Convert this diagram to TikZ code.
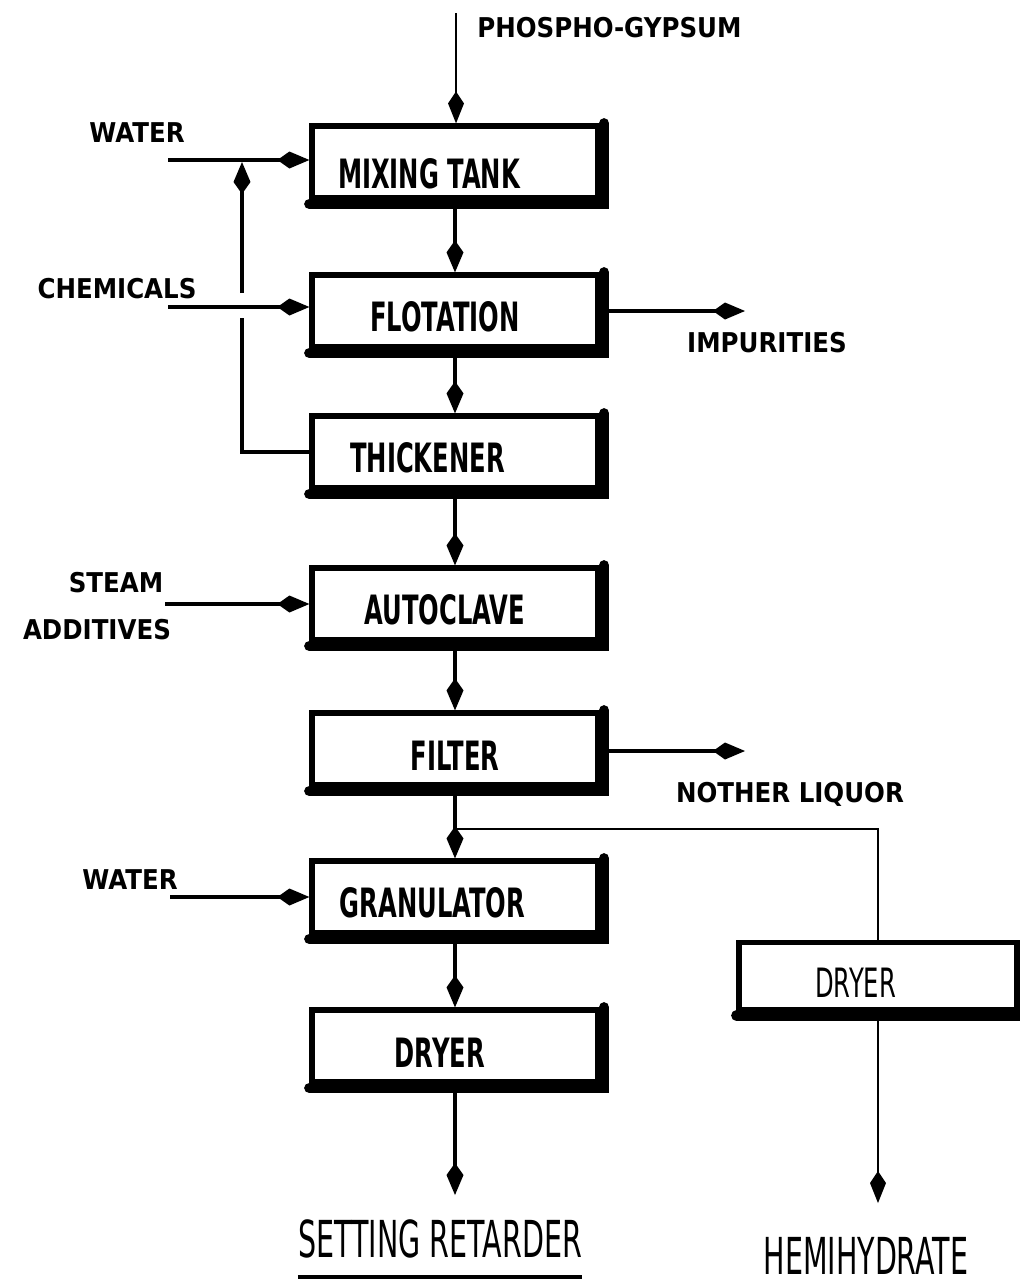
\documentclass[tikz,border=0pt]{standalone}
\usepackage{fontspec}
\usetikzlibrary{arrows.meta}
\newfontfamily\boxfont[FakeStretch=0.6]{DejaVu Sans}
\newfontfamily\feedfont[FakeStretch=0.9]{DejaVu Sans}
\newfontfamily\prodfont[FakeStretch=0.56]{DejaVu Sans}

\tikzset{
    unit/.style={draw, line width=3pt, fill=white, inner sep=0pt,
        minimum width=5.72cm, minimum height=1.44cm, text height=0.85cm,
        font=\boxfont\bfseries\fontsize{23}{27}\selectfont},
    shade edge/.style={line width=6pt, line cap=round},
    feed/.style={inner sep=0pt, font=\feedfont\bfseries\fontsize{15.5}{18}\selectfont},
    prod/.style={inner sep=0pt, font=\prodfont\fontsize{29}{34}\selectfont},
    flow/.style={line width=2.2pt, -{Kite[length=0.64cm, width=0.34cm, inset=0.24cm]}},
    flowline/.style={line width=2.2pt},
    side/.style={line width=1.3pt},
    sideflow/.style={line width=1.3pt, -{Kite[length=0.64cm, width=0.32cm, inset=0.24cm]}}
}

\begin{document}
\begin{tikzpicture}[x=0.02cm, y=-0.02cm]
    \useasboundingbox (0,0) rectangle (1020,1286);

    % process units
    \node[unit] (mix)   at (455,162)  {\raisebox{-0.1cm}[0pt][0pt]{MIXING TANK}\hspace*{1.04cm}};
    \node[unit] (flot)  at (455,311)  {FLOTATION\hspace*{0.4cm}};
    \node[unit] (thick) at (455,452)  {THICKENER\hspace*{1.1cm}};
    \node[unit] (auto)  at (455,604)  {AUTOCLAVE\hspace*{0.4cm}};
    \node[unit] (filt)  at (455,749)  {FILTER};
    \node[unit] (gran)  at (455,897)  {GRANULATOR\hspace*{0.9cm}};
    \node[unit] (dry)   at (455,1046) {DRYER\hspace*{0.6cm}};
    \node[unit, minimum width=5.56cm, minimum height=1.34cm, font=\boxfont\fontsize{23}{27}\selectfont] (rdry) at (878,976) {DRYER\hspace*{0.9cm}};

    % heavy right and bottom edges
    \foreach \u in {mix,flot,thick,auto,filt,gran,dry}
        \draw[shade edge] ([shift={(2pt,0pt)}]\u.north east) -- ([shift={(2pt,-2pt)}]\u.south east) -- ([shift={(0pt,-2pt)}]\u.south west);
    \draw[shade edge] ([yshift=-2pt]rdry.south west) -- ([yshift=-2pt]rdry.south east);

    % feeds and products
    \node[feed, anchor=west] (gypsum) at (477,28) {PHOSPHO-GYPSUM};
    \node[feed] (water)  at (137,133) {WATER};
    \node[feed] (chem)   at (117,289) {CHEMICALS};
    \node[feed] (impur)  at (767,343) {IMPURITIES};
    \node[feed] (steam)  at (116,583) {STEAM};
    \node[feed] (addit)  at (97,630)  {ADDITIVES};
    \node[feed] (liquor) at (790,794) {NOTHER LIQUOR};
    \node[feed] (water2) at (130,880) {WATER};
    \node[prod] (setret) at (440,1239) {SETTING RETARDER};
    \node[prod] (hemi)   at (866,1256) {HEMIHYDRATE};

    % free ends
    \coordinate (gyp) at (456,13);
    \coordinate (w1)  at (168,160);
    \coordinate (ch)  at (168,307);
    \coordinate (rc1) at (242,452);
    \coordinate (rc2) at (242,318);
    \coordinate (rc3) at (242,293);
    \coordinate (rc4) at (242,162);
    \coordinate (imp) at (745,311);
    \coordinate (st)  at (165,604);
    \coordinate (liq) at (745,751);
    \coordinate (split) at (455,829);
    \coordinate (w2)  at (170,897);
    \coordinate (out1) at (455,1195);
    \coordinate (out2) at (878,1203);

    % main line
    \draw[sideflow] (gyp) -- (gyp |- mix.north);
    \draw[flow] (mix.south) -- (flot.north);
    \draw[flow] (flot.south) -- (thick.north);
    \draw[flow] (thick.south) -- (auto.north);
    \draw[flow] (auto.south) -- (filt.north);
    \draw[flow] (filt.south) -- (gran.north);
    \draw[flow] (gran.south) -- (dry.north);
    \draw[flow] (dry.south) -- (out1);

    % side streams
    \draw[flow] (w1) -- (w1 -| mix.west);
    \draw[flow] (ch) -- (ch -| flot.west);
    \draw[flowline] (thick.west) -- (rc1) -- (rc2);
    \draw[flow] (rc3) -- (rc4);
    \draw[flow] (flot.east |- imp) -- (imp);
    \draw[flow] (st) -- (st -| auto.west);
    \draw[flow] (filt.east |- liq) -- (liq);
    \draw[flow] (w2) -- (w2 -| gran.west);

    % hemihydrate branch
    \draw[side] (split) -- (split -| rdry.north) -- (rdry.north);
    \draw[sideflow] (rdry.south) -- (out2);

    % underlines
    \draw[flowline] ([yshift=-0.36cm]setret.south west) -- ([yshift=-0.36cm]setret.south east);
    \draw[flowline] ([yshift=-0.3cm]hemi.south west) -- ([yshift=-0.3cm]hemi.south east);
\end{tikzpicture}
\end{document}
